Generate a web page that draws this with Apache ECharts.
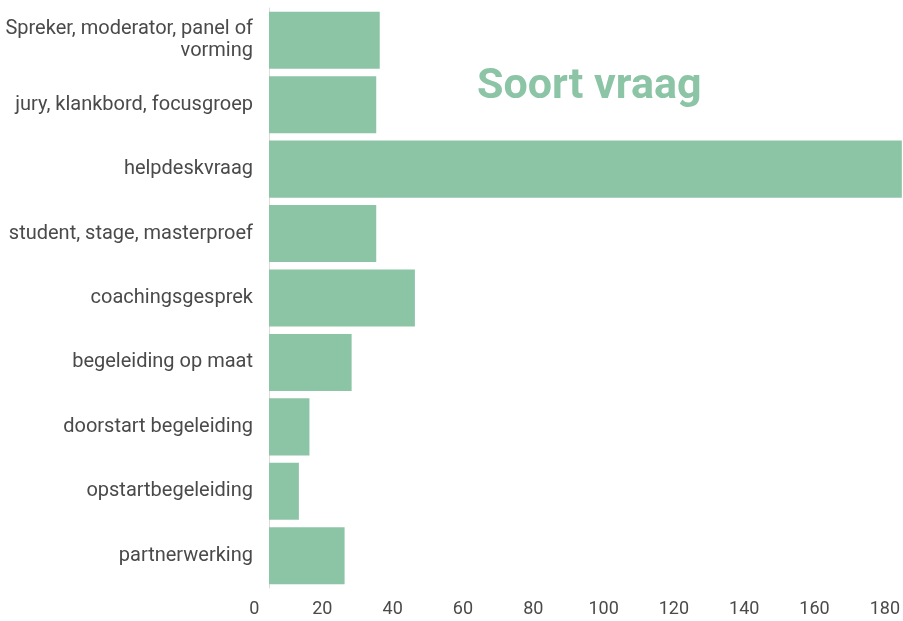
<!DOCTYPE html>
<html>
<head>
<meta charset="utf-8">
<script src="https://cdn.jsdelivr.net/npm/echarts@6/dist/echarts.min.js"></script>
<style>
  html, body { margin: 0; padding: 0; background: #fff; }
  #chart { width: 903px; height: 621px; }
</style>
</head>
<body>
<div id="chart"></div>
<script>
// categorieën (van boven naar onder)
const categories = [
  'Spreker, moderator, panel of vorming',
  'jury, klankbord, focusgroep',
  'helpdeskvraag',
  'student, stage, masterproef',
  'coachingsgesprek',
  'begeleiding op maat',
  'doorstart begeleiding',
  'opstartbegeleiding',
  'partnerwerking'
]

// aantallen per soort vraag
const counts = [31.5, 30.5, 190, 30.5, 41.5, 23.5, 11.5, 8.5, 21.5]

// x-as ticks
const xTicks = [0, 20, 40, 60, 80, 100, 120, 140, 160, 180]

const barColor = '#8cc4a6'
const textColor = '#4a4a4a'

const chart = echarts.init(document.getElementById('chart'))

chart.setOption({
  animation: false,
  title: {
    text: 'Soort vraag',
    left: 472,
    top: 61,
    textStyle: {
      fontFamily: 'Roboto',
      fontSize: 43,
      fontWeight: 'bold',
      color: '#8cc4a6'
    }
  },
  grid: {left: 269, right: 0, top: 8, bottom: 33, containLabel: false},
  xAxis: {
    type: 'value',
    min: xTicks[0],
    max: xTicks[xTicks.length - 1],
    interval: xTicks[1] - xTicks[0],
    axisLine: {show: false},
    axisTick: {show: false},
    splitLine: {show: false},
    axisLabel: {
      fontFamily: 'Roboto',
      fontSize: 18,
      color: textColor,
      margin: 12,
      padding: [0, 34, 0, 0], // labels staan iets links van de tick
      showMaxLabel: true,
      formatter: v => (v === 0 ? ' 0' : String(v))
    }
  },
  yAxis: {
    type: 'category',
    inverse: true,
    data: categories,
    axisLine: {show: true, lineStyle: {color: '#dcdcdc', width: 1}},
    axisTick: {show: false},
    axisLabel: {
      fontFamily: 'Roboto',
      fontSize: 20,
      color: textColor,
      margin: 16,
      lineHeight: 22,
      align: 'right',
      formatter: v => v.replace('panel of vorming', 'panel of\nvorming')
    }
  },
  series: [{
    type: 'bar',
    data: counts,
    barCategoryGap: '11.5%',
    clip: true,
    itemStyle: {color: barColor}
  }]
})
</script>
</body>
</html>
